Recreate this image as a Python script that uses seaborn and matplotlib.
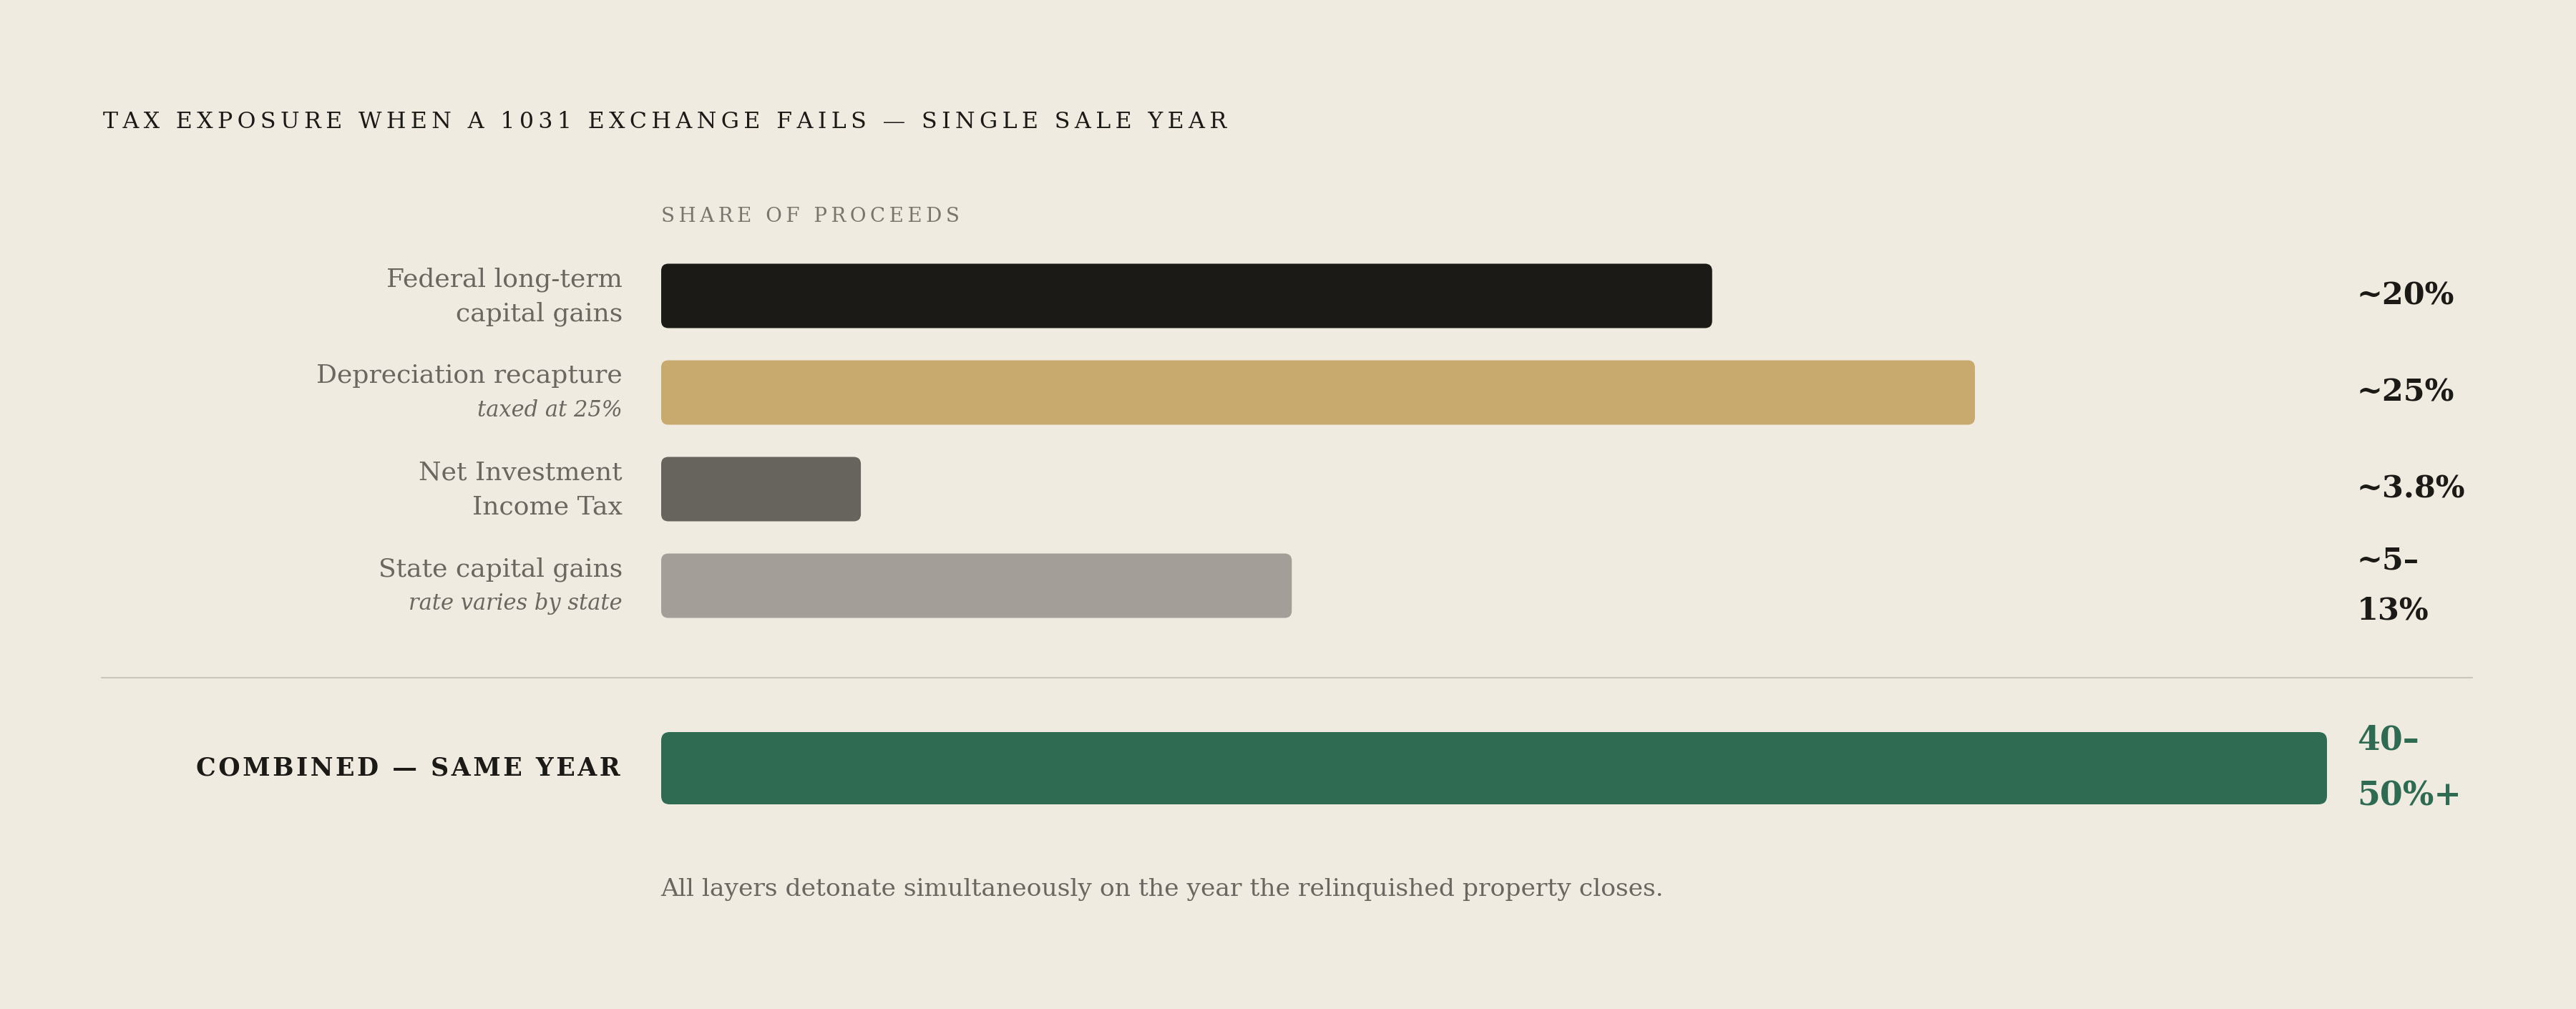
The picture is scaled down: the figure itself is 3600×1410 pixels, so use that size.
import matplotlib
matplotlib.use("Agg")
import matplotlib.pyplot as plt
import matplotlib.transforms as mtransforms
from matplotlib.patches import FancyBboxPatch
from matplotlib.lines import Line2D
import seaborn as sns

# --- Data ---
title = "TAX EXPOSURE WHEN A 1031 EXCHANGE FAILS — SINGLE SALE YEAR"
axis_caption = "SHARE OF PROCEEDS"
layers = ["Federal LTCG", "Depreciation recapture", "NIIT", "State capital gains"]
label_main = ["Federal long-term", "Depreciation recapture", "Net Investment", "State capital gains"]
label_sub = ["capital gains", "taxed at 25%", "Income Tax", "rate varies by state"]
sub_italic = [False, True, False, True]
layer_rates = [20, 25, 3.8, 12]          # drawn bar length, % of proceeds
value_labels = ["~20%", "~25%", "~3.8%", "~5–\n13%"]
combined_label = "COMBINED — SAME YEAR"
combined_rate = [31.7]                   # combined bar fills the whole track
combined_value = "40–\n50%+"
scale_max = 31.7
footnote = "All layers detonate simultaneously on the year the relinquished property closes."

# --- Style ---
bg = "#f0ebe1"
ink = "#1c1a17"
muted = "#6b665f"
layer_colors = ["#1c1a17", "#c8a96e", "#67635d", "#a39f98"]
green = "#2e6b52"
rule = "#cbc6bd"

sns.set_style("white")
plt.rcParams["font.family"] = ["DejaVu Serif"]

W, H = 3600, 1410


def fx(px):
    return px / W


def fy(py):
    return 1 - py / H


def spaced(s, sep="\u2009"):
    return sep.join(s)


def round_bars(ax, radius_px):
    # swap the library's rectangles for rounded ones with the same bounds
    x0, x1 = ax.get_xlim()
    y0, y1 = ax.get_ylim()
    bbox = ax.get_position()
    xupp = abs(x1 - x0) / (bbox.width * W)
    yupp = abs(y1 - y0) / (bbox.height * H)
    for p in list(ax.patches):
        x, y, w, h = p.get_x(), p.get_y(), p.get_width(), p.get_height()
        fb = FancyBboxPatch((x, y), w, h,
                            boxstyle=f"round,pad=0,rounding_size={radius_px * xupp}",
                            mutation_aspect=yupp / xupp,
                            facecolor=p.get_facecolor(), edgecolor="none")
        p.remove()
        ax.add_patch(fb)


fig = plt.figure(figsize=(W / 100, H / 100), dpi=100, facecolor=bg)

# --- Layer bars ---
row_px = 135
ax_top = fig.add_axes([fx(924), fy(346 + 4 * row_px), fx(3252) - fx(924), 4 * row_px / H])
sns.barplot(x=layer_rates, y=layers, hue=layers, palette=layer_colors, legend=False,
            orient="h", width=90 / row_px, saturation=1, ax=ax_top)
ax_top.set_xlim(0, scale_max)
ax_top.set_ylim(3.5, -0.5)
ax_top.axis("off")
round_bars(ax_top, 10)

blend = mtransforms.blended_transform_factory(fig.transFigure, ax_top.transData)
pt = 72 / 100
for i in range(len(layers)):
    ax_top.annotate(label_main[i], xy=(fx(870), i), xycoords=blend,
                    xytext=(0, 13 * pt), textcoords="offset points",
                    ha="right", va="baseline", fontsize=26, color=muted)
    if sub_italic[i]:
        ax_top.annotate(label_sub[i], xy=(fx(870), i), xycoords=blend,
                        xytext=(0, -33.5 * pt), textcoords="offset points",
                        ha="right", va="baseline", fontsize=22, style="italic", color=muted)
    else:
        ax_top.annotate(label_sub[i], xy=(fx(870), i), xycoords=blend,
                        xytext=(0, -35 * pt), textcoords="offset points",
                        ha="right", va="baseline", fontsize=26, color=muted)
    ax_top.annotate(value_labels[i], xy=(fx(3294), i), xycoords=blend,
                    ha="left", va="center", fontsize=31, fontweight="bold",
                    color=ink, linespacing=1.85)

# --- Combined bar ---
ax_bot = fig.add_axes([fx(924), fy(1124), fx(3252) - fx(924), 101 / H])
sns.barplot(x=combined_rate, y=[combined_label], color=green, orient="h",
            width=1, saturation=1, ax=ax_bot)
ax_bot.set_xlim(0, scale_max)
ax_bot.set_ylim(0.5, -0.5)
ax_bot.axis("off")
round_bars(ax_bot, 12)

blend_b = mtransforms.blended_transform_factory(fig.transFigure, ax_bot.transData)
ax_bot.annotate(spaced(combined_label, "\u200a"), xy=(fx(867), 0), xycoords=blend_b,
                ha="right", va="center", fontsize=25, fontweight="bold", color=ink)
ax_bot.annotate(combined_value, xy=(fx(3294), 0), xycoords=blend_b,
                ha="left", va="center", fontsize=33, fontweight="bold",
                color=green, linespacing=1.9)

# --- Titles, rule, footnote ---
fig.text(fx(144), fy(179), spaced(title), ha="left", va="baseline", fontsize=22.8, color=ink)
fig.text(fx(924), fy(310), spaced(axis_caption), ha="left", va="baseline",
         fontsize=20, color="#7a756c")
fig.add_artist(Line2D([fx(142), fx(3455)], [fy(947), fy(947)],
                      transform=fig.transFigure, color=rule, lw=1.5))
fig.text(fx(923), fy(1252), footnote, ha="left", va="baseline", fontsize=24.8, color=muted)

fig.savefig("out.png", dpi=100, facecolor=bg)
